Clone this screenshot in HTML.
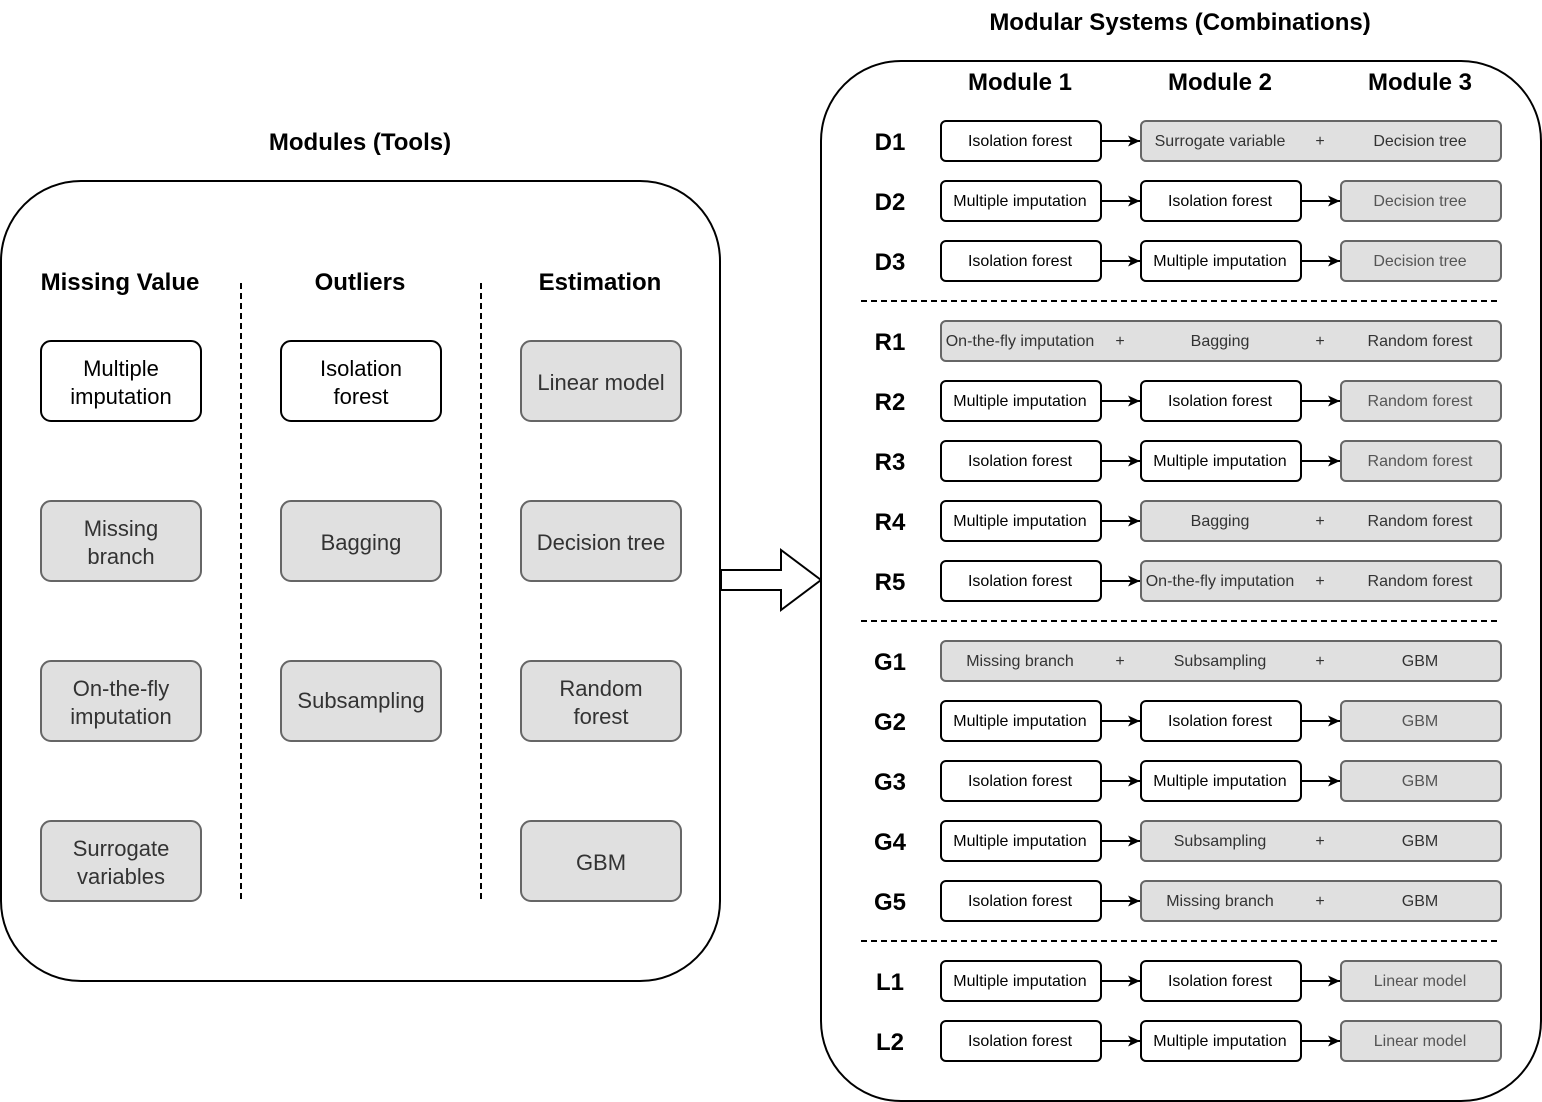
<!DOCTYPE html>
<html><head><meta charset="utf-8"><style>
html,body{margin:0;padding:0;background:#fff}
svg{display:block}
text{font-family:"Liberation Sans",Arial,sans-serif}
.h{font-weight:bold;font-size:24px;fill:#000;text-anchor:middle}
.b{font-size:22px;text-anchor:middle}
.s{font-size:16px;text-anchor:middle}
.w{fill:#fff;stroke:#000;stroke-width:2}
.g{fill:#e0e0e0;stroke:#666;stroke-width:2}
.d{stroke:#000;stroke-width:2;stroke-dasharray:6 4}
.a{stroke:#000;stroke-width:2}
</style></head><body>
<svg width="1542" height="1102" viewBox="0 0 1542 1102" xmlns="http://www.w3.org/2000/svg">
<defs><marker id="m" viewBox="0 0 12 12" refX="12" refY="6" markerWidth="12" markerHeight="12" markerUnits="userSpaceOnUse" orient="auto"><path d="M0,0.5 L12,6 L0,11.5 L3,6 z" fill="#000"/></marker></defs>

<!-- Left panel -->
<text class="h" x="360" y="150">Modules (Tools)</text>
<rect x="1" y="181" width="719" height="800" rx="80" fill="#fff" stroke="#000" stroke-width="2"/>
<text class="h" x="120" y="290">Missing Value</text>
<text class="h" x="360" y="290">Outliers</text>
<text class="h" x="600" y="290">Estimation</text>
<line class="d" x1="241" y1="283" x2="241" y2="900"/>
<line class="d" x1="481" y1="283" x2="481" y2="900"/>

<g>
<rect class="w" x="41" y="341" width="160" height="80" rx="10"/>
<text class="b" x="121" y="376" fill="#000">Multiple</text><text class="b" x="121" y="404" fill="#000">imputation</text>
<rect class="g" x="41" y="501" width="160" height="80" rx="10"/>
<text class="b" x="121" y="536" fill="#333">Missing</text><text class="b" x="121" y="564" fill="#333">branch</text>
<rect class="g" x="41" y="661" width="160" height="80" rx="10"/>
<text class="b" x="121" y="696" fill="#333">On-the-fly</text><text class="b" x="121" y="724" fill="#333">imputation</text>
<rect class="g" x="41" y="821" width="160" height="80" rx="10"/>
<text class="b" x="121" y="856" fill="#333">Surrogate</text><text class="b" x="121" y="884" fill="#333">variables</text>

<rect class="w" x="281" y="341" width="160" height="80" rx="10"/>
<text class="b" x="361" y="376" fill="#000">Isolation</text><text class="b" x="361" y="404" fill="#000">forest</text>
<rect class="g" x="281" y="501" width="160" height="80" rx="10"/>
<text class="b" x="361" y="550" fill="#333">Bagging</text>
<rect class="g" x="281" y="661" width="160" height="80" rx="10"/>
<text class="b" x="361" y="708" fill="#333">Subsampling</text>

<rect class="g" x="521" y="341" width="160" height="80" rx="10"/>
<text class="b" x="601" y="390" fill="#333">Linear model</text>
<rect class="g" x="521" y="501" width="160" height="80" rx="10"/>
<text class="b" x="601" y="550" fill="#333">Decision tree</text>
<rect class="g" x="521" y="661" width="160" height="80" rx="10"/>
<text class="b" x="601" y="696" fill="#333">Random</text><text class="b" x="601" y="724" fill="#333">forest</text>
<rect class="g" x="521" y="821" width="160" height="80" rx="10"/>
<text class="b" x="601" y="870" fill="#333">GBM</text>
</g>

<!-- Big arrow -->
<path d="M721,570 L781,570 L781,550 L821,580 L781,610 L781,590 L721,590 Z" fill="#fff" stroke="#000" stroke-width="2"/>

<!-- Right panel -->
<text class="h" x="1180" y="30">Modular Systems (Combinations)</text>
<rect x="821" y="61" width="720" height="1040" rx="80" fill="#fff" stroke="#000" stroke-width="2"/>
<text class="h" x="1020" y="90">Module 1</text>
<text class="h" x="1220" y="90">Module 2</text>
<text class="h" x="1420" y="90">Module 3</text>
<line class="d" x1="861" y1="301" x2="1501" y2="301"/>
<line class="d" x1="861" y1="621" x2="1501" y2="621"/>
<line class="d" x1="861" y1="941" x2="1501" y2="941"/>

<g class="h">
<text x="890" y="150">D1</text><text x="890" y="210">D2</text><text x="890" y="270">D3</text>
<text x="890" y="350">R1</text><text x="890" y="410">R2</text><text x="890" y="470">R3</text><text x="890" y="530">R4</text><text x="890" y="590">R5</text>
<text x="890" y="670">G1</text><text x="890" y="730">G2</text><text x="890" y="790">G3</text><text x="890" y="850">G4</text><text x="890" y="910">G5</text>
<text x="890" y="990">L1</text><text x="890" y="1050">L2</text>
</g>

<!-- D1 -->
<rect class="w" x="941" y="121" width="160" height="40" rx="5"/><text class="s" x="1020" y="146">Isolation forest</text>
<line class="a" x1="1101" y1="141" x2="1140" y2="141" marker-end="url(#m)"/>
<rect class="g" x="1141" y="121" width="360" height="40" rx="5"/>
<text class="s" x="1220" y="146" fill="#333">Surrogate variable</text><text class="s" x="1320" y="146" fill="#333">+</text><text class="s" x="1420" y="146" fill="#333">Decision tree</text>

<!-- D2 -->
<rect class="w" x="941" y="181" width="160" height="40" rx="5"/><text class="s" x="1020" y="206">Multiple imputation</text>
<line class="a" x1="1101" y1="201" x2="1140" y2="201" marker-end="url(#m)"/>
<rect class="w" x="1141" y="181" width="160" height="40" rx="5"/><text class="s" x="1220" y="206">Isolation forest</text>
<line class="a" x1="1301" y1="201" x2="1340" y2="201" marker-end="url(#m)"/>
<rect class="g" x="1341" y="181" width="160" height="40" rx="5"/><text class="s" x="1420" y="206" fill="#555">Decision tree</text>

<!-- D3 -->
<rect class="w" x="941" y="241" width="160" height="40" rx="5"/><text class="s" x="1020" y="266">Isolation forest</text>
<line class="a" x1="1101" y1="261" x2="1140" y2="261" marker-end="url(#m)"/>
<rect class="w" x="1141" y="241" width="160" height="40" rx="5"/><text class="s" x="1220" y="266">Multiple imputation</text>
<line class="a" x1="1301" y1="261" x2="1340" y2="261" marker-end="url(#m)"/>
<rect class="g" x="1341" y="241" width="160" height="40" rx="5"/><text class="s" x="1420" y="266" fill="#555">Decision tree</text>

<!-- R1 -->
<rect class="g" x="941" y="321" width="560" height="40" rx="5"/>
<text class="s" x="1020" y="346" fill="#333">On-the-fly imputation</text><text class="s" x="1120" y="346" fill="#333">+</text><text class="s" x="1220" y="346" fill="#333">Bagging</text><text class="s" x="1320" y="346" fill="#333">+</text><text class="s" x="1420" y="346" fill="#333">Random forest</text>

<!-- R2 -->
<rect class="w" x="941" y="381" width="160" height="40" rx="5"/><text class="s" x="1020" y="406">Multiple imputation</text>
<line class="a" x1="1101" y1="401" x2="1140" y2="401" marker-end="url(#m)"/>
<rect class="w" x="1141" y="381" width="160" height="40" rx="5"/><text class="s" x="1220" y="406">Isolation forest</text>
<line class="a" x1="1301" y1="401" x2="1340" y2="401" marker-end="url(#m)"/>
<rect class="g" x="1341" y="381" width="160" height="40" rx="5"/><text class="s" x="1420" y="406" fill="#555">Random forest</text>

<!-- R3 -->
<rect class="w" x="941" y="441" width="160" height="40" rx="5"/><text class="s" x="1020" y="466">Isolation forest</text>
<line class="a" x1="1101" y1="461" x2="1140" y2="461" marker-end="url(#m)"/>
<rect class="w" x="1141" y="441" width="160" height="40" rx="5"/><text class="s" x="1220" y="466">Multiple imputation</text>
<line class="a" x1="1301" y1="461" x2="1340" y2="461" marker-end="url(#m)"/>
<rect class="g" x="1341" y="441" width="160" height="40" rx="5"/><text class="s" x="1420" y="466" fill="#555">Random forest</text>

<!-- R4 -->
<rect class="w" x="941" y="501" width="160" height="40" rx="5"/><text class="s" x="1020" y="526">Multiple imputation</text>
<line class="a" x1="1101" y1="521" x2="1140" y2="521" marker-end="url(#m)"/>
<rect class="g" x="1141" y="501" width="360" height="40" rx="5"/>
<text class="s" x="1220" y="526" fill="#333">Bagging</text><text class="s" x="1320" y="526" fill="#333">+</text><text class="s" x="1420" y="526" fill="#333">Random forest</text>

<!-- R5 -->
<rect class="w" x="941" y="561" width="160" height="40" rx="5"/><text class="s" x="1020" y="586">Isolation forest</text>
<line class="a" x1="1101" y1="581" x2="1140" y2="581" marker-end="url(#m)"/>
<rect class="g" x="1141" y="561" width="360" height="40" rx="5"/>
<text class="s" x="1220" y="586" fill="#333">On-the-fly imputation</text><text class="s" x="1320" y="586" fill="#333">+</text><text class="s" x="1420" y="586" fill="#333">Random forest</text>

<!-- G1 -->
<rect class="g" x="941" y="641" width="560" height="40" rx="5"/>
<text class="s" x="1020" y="666" fill="#333">Missing branch</text><text class="s" x="1120" y="666" fill="#333">+</text><text class="s" x="1220" y="666" fill="#333">Subsampling</text><text class="s" x="1320" y="666" fill="#333">+</text><text class="s" x="1420" y="666" fill="#333">GBM</text>

<!-- G2 -->
<rect class="w" x="941" y="701" width="160" height="40" rx="5"/><text class="s" x="1020" y="726">Multiple imputation</text>
<line class="a" x1="1101" y1="721" x2="1140" y2="721" marker-end="url(#m)"/>
<rect class="w" x="1141" y="701" width="160" height="40" rx="5"/><text class="s" x="1220" y="726">Isolation forest</text>
<line class="a" x1="1301" y1="721" x2="1340" y2="721" marker-end="url(#m)"/>
<rect class="g" x="1341" y="701" width="160" height="40" rx="5"/><text class="s" x="1420" y="726" fill="#555">GBM</text>

<!-- G3 -->
<rect class="w" x="941" y="761" width="160" height="40" rx="5"/><text class="s" x="1020" y="786">Isolation forest</text>
<line class="a" x1="1101" y1="781" x2="1140" y2="781" marker-end="url(#m)"/>
<rect class="w" x="1141" y="761" width="160" height="40" rx="5"/><text class="s" x="1220" y="786">Multiple imputation</text>
<line class="a" x1="1301" y1="781" x2="1340" y2="781" marker-end="url(#m)"/>
<rect class="g" x="1341" y="761" width="160" height="40" rx="5"/><text class="s" x="1420" y="786" fill="#555">GBM</text>

<!-- G4 -->
<rect class="w" x="941" y="821" width="160" height="40" rx="5"/><text class="s" x="1020" y="846">Multiple imputation</text>
<line class="a" x1="1101" y1="841" x2="1140" y2="841" marker-end="url(#m)"/>
<rect class="g" x="1141" y="821" width="360" height="40" rx="5"/>
<text class="s" x="1220" y="846" fill="#333">Subsampling</text><text class="s" x="1320" y="846" fill="#333">+</text><text class="s" x="1420" y="846" fill="#333">GBM</text>

<!-- G5 -->
<rect class="w" x="941" y="881" width="160" height="40" rx="5"/><text class="s" x="1020" y="906">Isolation forest</text>
<line class="a" x1="1101" y1="901" x2="1140" y2="901" marker-end="url(#m)"/>
<rect class="g" x="1141" y="881" width="360" height="40" rx="5"/>
<text class="s" x="1220" y="906" fill="#333">Missing branch</text><text class="s" x="1320" y="906" fill="#333">+</text><text class="s" x="1420" y="906" fill="#333">GBM</text>

<!-- L1 -->
<rect class="w" x="941" y="961" width="160" height="40" rx="5"/><text class="s" x="1020" y="986">Multiple imputation</text>
<line class="a" x1="1101" y1="981" x2="1140" y2="981" marker-end="url(#m)"/>
<rect class="w" x="1141" y="961" width="160" height="40" rx="5"/><text class="s" x="1220" y="986">Isolation forest</text>
<line class="a" x1="1301" y1="981" x2="1340" y2="981" marker-end="url(#m)"/>
<rect class="g" x="1341" y="961" width="160" height="40" rx="5"/><text class="s" x="1420" y="986" fill="#555">Linear model</text>

<!-- L2 -->
<rect class="w" x="941" y="1021" width="160" height="40" rx="5"/><text class="s" x="1020" y="1046">Isolation forest</text>
<line class="a" x1="1101" y1="1041" x2="1140" y2="1041" marker-end="url(#m)"/>
<rect class="w" x="1141" y="1021" width="160" height="40" rx="5"/><text class="s" x="1220" y="1046">Multiple imputation</text>
<line class="a" x1="1301" y1="1041" x2="1340" y2="1041" marker-end="url(#m)"/>
<rect class="g" x="1341" y="1021" width="160" height="40" rx="5"/><text class="s" x="1420" y="1046" fill="#555">Linear model</text>
</svg>
</body></html>
